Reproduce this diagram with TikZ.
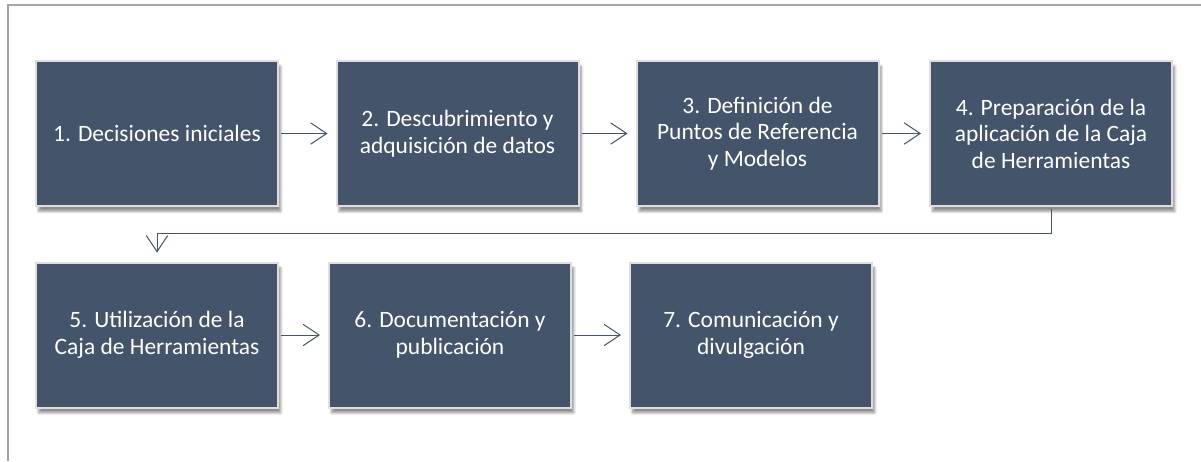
\documentclass[tikz,border=0pt]{standalone}
\usepackage{fontspec}
\setmainfont{Carlito}
\usetikzlibrary{arrows.meta,shadows.blur}
\definecolor{box_blue}{RGB}{68, 84, 106}
\definecolor{box_rim}{RGB}{222, 222, 222}
\definecolor{frame_grey}{RGB}{165, 165, 165}
\tikzstyle{bx}=[rectangle,fill=box_blue,draw=box_rim,line width=1.5pt,
  text=white,align=center,minimum width=181.5pt,minimum height=108.75pt,
  blur shadow={shadow xshift=2pt,shadow yshift=-4pt,shadow blur steps=6,shadow opacity=45},
  font=\fontsize{17.6}{19.9}\selectfont]
\tikzstyle{ar}=[draw=box_blue,line width=0.75pt,-{Straight Barb[length=12pt,width=16pt]},
  shorten <=1.5pt,shorten >=6pt]
\tikzstyle{none}=[]

\begin{document}
\begin{tikzpicture}[x=0.75pt,y=-0.75pt]
            \useasboundingbox (0, 0) rectangle (1201, 461);
            \draw [frame_grey, line width=1.5pt] (7.5, 461) -- (7.5, 5) -- (1201, 5);
            \node [style=bx] (1) at (157, 133.5) {1. Decisiones iniciales};
            \node [style=bx] (2) at (457.5, 133.5) {2. Descubrimiento y\\adquisición de datos};
            \node [style=bx] (3) at (757.5, 133.5) {3. Definición de\\Puntos de Referencia\\y Modelos};
            \node [style=bx] (4) at (1051, 133.5) {4. Preparación de la\\aplicación de la Caja\\de Herramientas};
            \node [style=bx] (5) at (157, 335) {5. Utilización de la\\Caja de Herramientas};
            \node [style=bx] (6) at (450, 335) {6. Documentación y\\publicación};
            \node [style=bx] (7) at (751, 335) {7. Comunicación y\\divulgación};
            \coordinate (4b) at (1051, 233);
            \coordinate (5b) at (157, 233);
            \draw [style=ar] (1) to (2);
            \draw [style=ar] (2) to (3);
            \draw [style=ar] (3) to (4);
            \draw [style=ar, shorten >=6.75pt] (4) -- (4b) -- (5b) -- (5);
            \draw [style=ar] (5) to (6);
            \draw [style=ar] (6) to (7);
    \end{tikzpicture}
\end{document}
